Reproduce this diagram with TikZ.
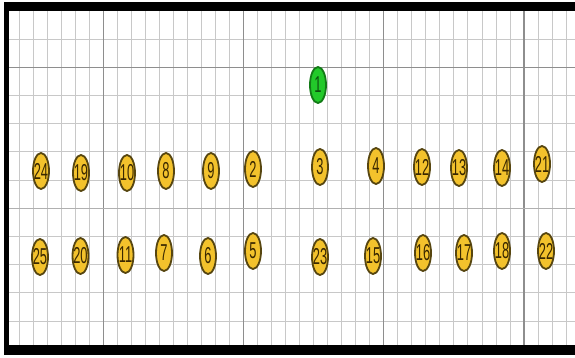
\documentclass[tikz,border=0pt]{standalone}
\usepackage{fontspec}
\setmainfont{Liberation Sans}
\usetikzlibrary{shapes.geometric}
\definecolor{gridminor}{HTML}{C8C8C8}
\definecolor{gridmid}{HTML}{B0B0B0}
\definecolor{gridmajor}{HTML}{8E8E8E}
\definecolor{gold}{HTML}{F3C22C}
\definecolor{goldedge}{HTML}{574610}
\definecolor{goldtext}{HTML}{3A2800}
\definecolor{gfill}{HTML}{22C92A}
\definecolor{gedge}{HTML}{127A16}
\definecolor{gtext}{HTML}{0B500E}
\tikzset{
  minorline/.style={gridminor, line width=1pt},
  midline/.style={gridmid, line width=1.1pt},
  majorline/.style={gridmajor, line width=1.3pt},
  numlab/.style={inner sep=0pt, text=goldtext, font=\fontsize{23}{23}\selectfont},
  seat/.style={ellipse, draw=goldedge, fill=gold, line width=1.8pt,
    minimum width=16pt, minimum height=36pt, inner sep=0pt,
    label={[numlab]center:\scalebox{0.56}[1]{#1}}},
  gseat/.style={ellipse, draw=gedge, fill=gfill, line width=1.8pt,
    minimum width=16pt, minimum height=36pt, inner sep=0pt,
    label={[numlab, text=gtext]center:\scalebox{0.56}[1]{#1}}},
  frameblk/.style={fill=black, draw=none}
}
\begin{document}
\begin{tikzpicture}[x=1pt, y=-1pt]
\useasboundingbox (0,0) rectangle (575,357);
\fill[white] (0,0) rectangle (575,357);
% grid
\foreach \k in {1,...,40} {
  \draw[minorline] ({5+14.03*\k},10) -- ({5+14.03*\k},345);
}
\foreach \j in {1,...,11} {
  \draw[minorline] (8,{10.8+28.2*\j}) -- (575,{10.8+28.2*\j});
}
\foreach \k in {7,17,27,37} {
  \draw[majorline] ({5+14.03*\k},10) -- ({5+14.03*\k},345);
}
\draw[majorline] (8,{10.8+28.2*2}) -- (575,{10.8+28.2*2});
\draw[midline] (8,{10.8+28.2*7}) -- (575,{10.8+28.2*7});
% frame
\fill[frameblk] (3.5,2) rectangle (575,10.5);
\fill[frameblk] (3.5,2) rectangle (8.5,355);
\fill[frameblk] (3.5,345) rectangle (575,355);
% seats
\node[gseat=1] (n1) at (318,85) {};
\node[seat=24] (n24) at (41,171) {};
\node[seat=19] (n19) at (81,173) {};
\node[seat=10] (n10) at (127,173) {};
\node[seat=8] (n8) at (166,171) {};
\node[seat=9] (n9) at (211,171) {};
\node[seat=2] (n2) at (253,169) {};
\node[seat=3] (n3) at (320,167) {};
\node[seat=4] (n4) at (376,166) {};
\node[seat=12] (n12) at (422,167) {};
\node[seat=13] (n13) at (459,168) {};
\node[seat=14] (n14) at (502,168) {};
\node[seat=21] (n21) at (542,164) {};
\node[seat=25] (n25) at (40,257) {};
\node[seat=20] (n20) at (80.5,256) {};
\node[seat=11] (n11) at (125.5,255) {};
\node[seat=7] (n7) at (164,253) {};
\node[seat=6] (n6) at (208,256) {};
\node[seat=5] (n5) at (253,251) {};
\node[seat=23] (n23) at (320,257) {};
\node[seat=15] (n15) at (373,256) {};
\node[seat=16] (n16) at (423,253) {};
\node[seat=17] (n17) at (464,253) {};
\node[seat=18] (n18) at (502,251) {};
\node[seat=22] (n22) at (546,251) {};
\end{tikzpicture}
\end{document}
